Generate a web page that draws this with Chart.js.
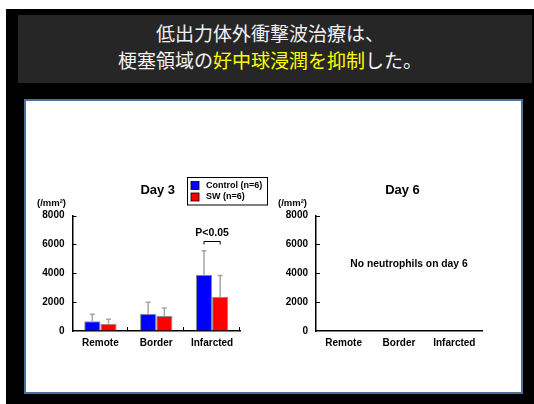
<!DOCTYPE html>
<html><head><meta charset="utf-8">
<script src="https://cdn.jsdelivr.net/npm/chart.js@4/dist/chart.umd.min.js"></script>
<style>
html,body{margin:0;padding:0;background:#fff;width:534px;height:404px;overflow:hidden;position:relative;}
#bg{position:absolute;left:6px;top:9px;width:528px;height:395px;background:#000;}
#titlebox{position:absolute;left:18px;top:15px;width:514px;height:68px;background:#262626;color:#f2f2f2;font-family:"Noto Sans CJK JP","Noto Sans CJK SC",sans-serif;font-size:19px;}
.tl{position:absolute;left:0;width:504px;height:26px;line-height:26px;text-align:center;white-space:nowrap;}
.hl{color:#ffff00;}
#panel{position:absolute;left:24px;top:99px;width:495px;height:291px;background:#fff;border:2px solid #4f6f9f;}
canvas{position:absolute;}
#c1{left:24px;top:100px;}
#c2{left:274px;top:100px;}
</style></head>
<body>
<div id="bg"></div>
<div id="titlebox">
  <div class="tl" style="top:5px">低出力体外衝撃波治療は、</div>
  <div class="tl" style="top:32px">梗塞領域の<span class="hl">好中球浸潤を抑制</span>した。</div>
</div>
<div id="panel"></div>
<canvas id="c1" width="250" height="290"></canvas>
<canvas id="c2" width="244" height="290"></canvas>
<script>
// ---- data ----
const categories = ['Remote', 'Border', 'Infarcted'];
const seriesLabels = ['Control (n=6)', 'SW (n=6)'];
const day3Control = [680, 1200, 3900];
const day3ControlSD = [480, 800, 1650];
const day3SW = [510, 1040, 2350];
const day3SWSD = [300, 560, 1500];
const day6Control = [null, null, null];
const day6SW = [null, null, null];
const yTicks = [0, 2000, 4000, 6000, 8000];
const unitLabel = '(/mm²)';
const sigLabel = 'P<0.05';
const day6Note = 'No neutrophils on day 6';

const FONT = '"Liberation Sans", Arial, sans-serif';
const BLUE = '#0000ff', RED = '#ff0000';

function makeOptions(area) {
  return {
    responsive: false,
    animation: false,
    layout: { padding: { left: 0, top: area.top, right: area.right, bottom: 0 } },
    plugins: { legend: { display: false }, tooltip: { enabled: false } },
    scales: {
      x: {
        grid: { display: true, drawOnChartArea: false, drawTicks: false },
        border: { display: true, color: '#000', width: 1.5 },
        ticks: { color: '#000', padding: 6, font: { family: FONT, weight: 'bold', size: 10 } },
        afterFit(s) { s.height = area.xh; }
      },
      y: {
        min: yTicks[0], max: yTicks[yTicks.length - 1],
        afterBuildTicks(s) { s.ticks = yTicks.map(v => ({ value: v })); },
        grid: { display: true, drawOnChartArea: false, drawTicks: false },
        border: { display: true, color: '#000', width: 1.5 },
        ticks: { color: '#000', padding: 8, font: { family: FONT, weight: 'bold', size: 10 },
                 callback: v => String(v) },
        afterFit(s) { s.width = area.left; }
      }
    }
  };
}

function drawCommon(chart, cfg) {
  const ctx = chart.ctx, ca = chart.chartArea, y = chart.scales.y, x = chart.scales.x;
  ctx.save();
  // inside y tick marks
  ctx.strokeStyle = '#000'; ctx.lineWidth = 1;
  yTicks.forEach(v => {
    if (v === yTicks[0]) return;
    const py = Math.round(y.getPixelForValue(v)) + 0.5;
    ctx.beginPath(); ctx.moveTo(ca.left, py); ctx.lineTo(ca.left + 4, py); ctx.stroke();
  });
  if (cfg.xTicks) {
    for (let i = 0; i < categories.length; i++) {
      const px = Math.round(x.getPixelForValue(i + 0.5)) - 0.5;
      ctx.beginPath(); ctx.moveTo(px, ca.bottom); ctx.lineTo(px, ca.bottom - 4); ctx.stroke();
    }
  }
  // title
  ctx.fillStyle = '#000';
  ctx.font = 'bold 13px ' + FONT;
  ctx.textAlign = 'center'; ctx.textBaseline = 'middle';
  ctx.fillText(cfg.title, (ca.left + ca.right) / 2 + cfg.titleDx, ca.top - 25);
  // unit
  ctx.font = 'bold 9.5px ' + FONT;
  ctx.textAlign = 'left';
  ctx.fillText(unitLabel, cfg.unitX, ca.top - 12.5);
  ctx.restore();
}

const day3Plugin = {
  id: 'day3extras',
  afterDatasetsDraw(chart) {
    const ctx = chart.ctx, y = chart.scales.y;
    [day3ControlSD, day3SWSD].forEach((sd, di) => {
      const meta = chart.getDatasetMeta(di);
      meta.data.forEach((bar, i) => {
        const mean = chart.data.datasets[di].data[i];
        const top = y.getPixelForValue(mean + sd[i]);
        ctx.save();
        ctx.strokeStyle = '#a6a6a6'; ctx.lineWidth = 1.5;
        ctx.beginPath();
        ctx.moveTo(bar.x, bar.y); ctx.lineTo(bar.x, top);
        ctx.moveTo(bar.x - 2.5, top); ctx.lineTo(bar.x + 2.5, top);
        ctx.stroke();
        ctx.restore();
      });
    });
  },
  afterDraw(chart) {
    drawCommon(chart, { title: 'Day 3', titleDx: 1.5, unitX: 13, xTicks: true });
    const ctx = chart.ctx, y = chart.scales.y;
    ctx.save();
    // significance bracket on Infarcted
    const b0 = chart.getDatasetMeta(0).data[2], b1 = chart.getDatasetMeta(1).data[2];
    const by = Math.round(y.getPixelForValue(6250)) + 0.5;
    ctx.strokeStyle = '#000'; ctx.lineWidth = 1;
    ctx.beginPath();
    ctx.moveTo(b0.x, by + 3); ctx.lineTo(b0.x, by); ctx.lineTo(b1.x, by); ctx.lineTo(b1.x, by + 3);
    ctx.stroke();
    ctx.fillStyle = '#000';
    ctx.font = 'bold 10.5px ' + FONT;
    ctx.textAlign = 'center'; ctx.textBaseline = 'middle';
    ctx.fillText(sigLabel, (b0.x + b1.x) / 2, by - 8);
    // legend box
    const lx = 163, ly = 77, lw = 80, lh = 27.5;
    ctx.lineWidth = 1; ctx.strokeStyle = '#000';
    ctx.strokeRect(lx + 0.5, ly + 0.5, lw, lh);
    const colors = [BLUE, RED];
    ctx.font = 'bold 9px ' + FONT;
    ctx.textAlign = 'left';
    seriesLabels.forEach((lab, i) => {
      const cy = ly + 8.5 + i * 11.5;
      ctx.fillStyle = colors[i];
      ctx.fillRect(lx + 4, cy - 4, 8, 8);
      ctx.strokeStyle = '#000'; ctx.lineWidth = 0.8;
      ctx.strokeRect(lx + 4, cy - 4, 8, 8);
      ctx.fillStyle = '#000';
      ctx.fillText(lab, lx + 19, cy);
    });
    ctx.restore();
  }
};

const day6Plugin = {
  id: 'day6extras',
  afterDraw(chart) {
    drawCommon(chart, { title: 'Day 6', titleDx: 3.5, unitX: 4, xTicks: false });
    const ctx = chart.ctx, x = chart.scales.x, y = chart.scales.y;
    ctx.save();
    ctx.fillStyle = '#000';
    ctx.font = 'bold 10.3px ' + FONT;
    ctx.textAlign = 'center'; ctx.textBaseline = 'middle';
    ctx.fillText(day6Note, x.getPixelForValue(1) + 10, y.getPixelForValue(4600));
    ctx.restore();
  }
};

function barDatasets(a, b) {
  return [
    { label: seriesLabels[0], data: a, backgroundColor: BLUE, borderColor: '#8c8c8c', borderWidth: 1,
      categoryPercentage: 0.58, barPercentage: 1.0 },
    { label: seriesLabels[1], data: b, backgroundColor: RED, borderColor: '#8c8c8c', borderWidth: 1,
      categoryPercentage: 0.58, barPercentage: 1.0 }
  ];
}

new Chart(document.getElementById('c1'), {
  type: 'bar',
  data: { labels: categories, datasets: barDatasets(day3Control, day3SW) },
  options: makeOptions({ top: 115.5, right: 34, left: 48.5, xh: 59 }),
  plugins: [day3Plugin]
});

new Chart(document.getElementById('c2'), {
  type: 'bar',
  data: { labels: categories, datasets: barDatasets(day6Control, day6SW) },
  options: makeOptions({ top: 115.5, right: 36, left: 42, xh: 59 }),
  plugins: [day6Plugin]
});
</script>
</body></html>
